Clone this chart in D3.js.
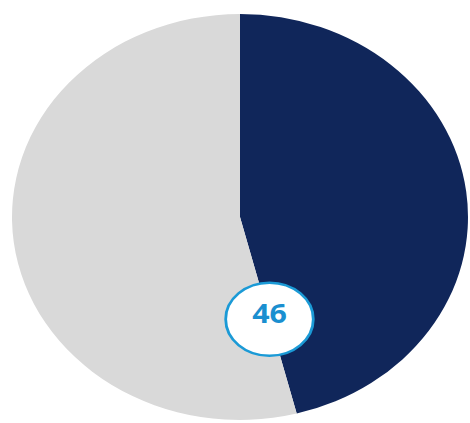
<!DOCTYPE html>
<html><head><meta charset="utf-8">
<script src="https://cdn.jsdelivr.net/npm/d3@7"></script>
<style>html,body{margin:0;padding:0;background:#fff;overflow:hidden}</style>
</head><body>
<svg id="c" width="470" height="423"></svg>
<script>
const categories = ["Yes", "No"];
const values = [46, 54];
const colors = ["#10265a", "#d9d9d9"];
const labelText = ["46"];

const W = 470, H = 423;
const cx = 240, cy = 217, R = 203, sx = 228 / 203;
const svg = d3.select("#c");
const g = svg.append("g").attr("transform", `translate(${cx},${cy}) scale(${sx},1)`);

const pie = d3.pie().sort(null).value(d => d)(values);
const arc = d3.arc().innerRadius(0).outerRadius(R);
const color = d3.scaleOrdinal().domain(categories).range(colors);

g.selectAll("path").data(pie).join("path")
  .attr("d", arc)
  .attr("fill", (d, i) => color(categories[i]));

// label at the end boundary of the first slice
const a = pie[0].endAngle;
const lr = R * 0.52;
const lx = lr * Math.sin(a), ly = -lr * Math.cos(a);
const lg = g.append("g").attr("transform", `translate(${lx},${ly + 0})`);
lg.append("ellipse").attr("rx", 39).attr("ry", 36.5)
  .attr("fill", "#fff").attr("stroke", "#1b9ad6").attr("stroke-width", 2.5);
lg.append("text").text(labelText[0])
  .attr("text-anchor", "middle").attr("dy", "0.35em").attr("y", -6)
  .attr("font-family", "Open Sans, Arial, sans-serif").attr("font-weight", "bold")
  .attr("font-size", 27).attr("fill", "#1a8fd0");
</script>
</body></html>
